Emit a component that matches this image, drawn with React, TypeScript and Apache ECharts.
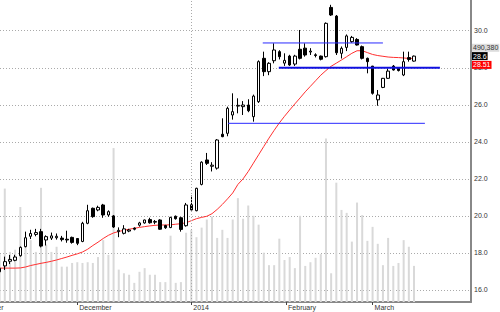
import { useEffect, useRef } from 'react';
import * as echarts from 'echarts';

// [open, close, low, high] per trading day (slot index = array index)
const candles: number[][] = [
  [16.98, 17.17, 16.9, 17.22],
  [17.3, 17.53, 17.08, 17.8],
  [17.55, 17.65, 17.4, 17.89],
  [17.6, 17.78, 17.55, 17.9],
  [17.85, 18.3, 17.8, 18.35],
  [18.34, 18.82, 18.3, 19.15],
  [18.9, 19.05, 18.75, 19.25],
  [19.0, 19.1, 18.9, 19.3],
  [19.15, 18.37, 18.3, 19.3],
  [18.7, 18.88, 18.4, 18.95],
  [18.8, 18.92, 18.7, 19.1],
  [18.82, 18.9, 18.72, 19.05],
  [18.8, 18.72, 18.62, 18.92],
  [18.74, 18.7, 18.55, 19.2],
  [18.84, 18.57, 18.5, 18.88],
  [18.78, 18.52, 18.42, 18.8],
  [18.62, 19.6, 18.58, 19.68],
  [19.6, 20.28, 19.55, 20.6],
  [20.41, 19.96, 19.9, 20.45],
  [20.32, 20.46, 20.25, 20.55],
  [20.59, 20.05, 19.9, 20.65],
  [20.05, 20.23, 19.95, 20.3],
  [20.0, 19.4, 19.35, 20.05],
  [19.15, 19.22, 18.85, 19.38],
  [19.06, 19.3, 19.0, 19.5],
  [19.18, 19.24, 19.12, 19.3],
  [19.34, 19.28, 19.22, 19.38],
  [19.5, 19.62, 19.42, 19.68],
  [19.62, 19.78, 19.58, 19.8],
  [19.8, 19.63, 19.58, 19.9],
  [19.66, 19.7, 19.55, 19.78],
  [19.78, 19.28, 19.25, 19.82],
  [19.48, 19.36, 19.3, 19.52],
  [19.37, 19.92, 19.34, 19.95],
  [19.98, 19.85, 19.8, 20.02],
  [19.9, 19.27, 19.15, 19.95],
  [19.47, 20.59, 19.42, 20.7],
  [20.6, 20.32, 20.3, 21.1],
  [20.28, 21.49, 20.25, 21.52],
  [21.7, 22.9, 21.65, 22.95],
  [23.02, 22.84, 22.75, 23.4],
  [22.68, 22.74, 22.4, 22.9],
  [22.58, 24.1, 22.5, 24.15],
  [24.41, 24.28, 24.25, 25.27],
  [24.46, 25.81, 24.3, 25.9],
  [25.45, 25.63, 25.2, 26.62],
  [25.93, 25.97, 25.54, 26.35],
  [25.9, 25.99, 25.45, 26.2],
  [25.99, 25.68, 25.6, 26.3],
  [25.36, 26.47, 25.09, 26.55],
  [26.17, 28.33, 26.1, 28.4],
  [28.51, 27.79, 27.55, 28.87],
  [27.79, 28.24, 27.6, 28.3],
  [28.38, 28.96, 28.24, 29.32],
  [28.87, 28.6, 28.45, 28.95],
  [28.25, 28.4, 28.1, 28.78],
  [28.63, 28.15, 28.1, 28.7],
  [28.2, 28.63, 28.1, 28.7],
  [29.0, 28.51, 28.45, 30.04],
  [29.06, 28.69, 28.6, 29.32],
  [28.85, 28.9, 28.69, 29.06],
  [28.7, 28.66, 28.56, 28.78],
  [28.63, 28.46, 28.4, 28.66],
  [28.6, 30.4, 28.55, 30.45],
  [31.26, 30.85, 30.8, 31.4],
  [30.79, 28.81, 28.69, 30.85],
  [28.78, 29.05, 28.5, 29.15],
  [29.1, 29.72, 28.9, 29.8],
  [29.41, 29.64, 29.35, 29.72],
  [29.53, 29.23, 29.2, 29.6],
  [29.14, 28.51, 28.45, 29.2],
  [28.51, 28.33, 27.7, 28.55],
  [28.09, 26.62, 26.55, 28.1],
  [26.27, 26.53, 25.95, 26.8],
  [26.94, 27.43, 26.9, 27.45],
  [27.43, 27.82, 27.4, 27.95],
  [28.09, 27.88, 27.85, 28.15],
  [27.97, 27.85, 27.8, 28.0],
  [27.61, 28.33, 27.55, 28.87],
  [28.55, 28.45, 28.33, 28.87],
  [28.36, 28.63, 28.33, 28.66],
];

const movingAverage: number[] = [
  17.18, 17.18, 17.18, 17.18, 17.19, 17.24, 17.32, 17.38, 17.44, 17.49,
  17.55, 17.62, 17.7, 17.78, 17.87, 17.95, 18.05, 18.2, 18.4, 18.58,
  18.78, 18.95, 19.08, 19.16, 19.22, 19.28, 19.33, 19.38, 19.42, 19.46,
  19.49, 19.51, 19.51, 19.52, 19.55, 19.58, 19.63, 19.74, 19.85, 19.92,
  19.98, 20.12, 20.35, 20.62, 20.92, 21.24, 21.7, 22.0, 22.4, 22.85,
  23.3, 23.75, 24.2, 24.62, 25.02, 25.38, 25.72, 26.05, 26.37, 26.7,
  27.0, 27.3, 27.6, 27.85, 28.08, 28.25, 28.42, 28.6, 28.78, 28.92,
  28.92, 28.82, 28.72, 28.66, 28.62, 28.58, 28.56, 28.55, 28.53, 28.5,
  28.51,
];

const volumes: number[] = [
  650000, 1540000, 680000, 710000, 1290000, 750000, 840000, 680000, 1550000, 780000,
  680000, 750000, 480000, 480000, 530000, 540000, 530000, 540000, 530000, 610000,
  840000, 640000, 2090000, 440000, 390000, 370000, 260000, 410000, 460000, 370000,
  370000, 270000, 270000, 900000, 260000, 270000, 940000, 980000, 880000, 1010000,
  1120000, 1160000, 870000, 980000, 870000, 1120000, 1410000, 1130000, 1310000, 1170000,
  1050000, 670000, 500000, 500000, 860000, 570000, 610000, 460000, 1170000, 490000,
  540000, 600000, 650000, 2220000, 390000, 1620000, 1250000, 1210000, 820000, 1350000,
  1180000, 830000, 1020000, 790000, 500000, 870000, 490000, 530000, 840000, 750000,
  490380,
];

const monthTickSlots = [15, 37, 55.3, 72];
const monthTickLabels = ['December', '2014', 'February', 'March'];
const cutMonthLabel = 'November';

// drawn trend lines: start slot, end slot, price
const trendStarts = [50.8, 53.9, 44.1];
const trendEnds = [74.0, 85.0, 82.1];
const trendValues = [29.34, 28.0, 25.0];

const FONT = '"Liberation Sans", Arial, sans-serif';

export default function App() {
  const ref = useRef<HTMLDivElement>(null);

  useEffect(() => {
    if (!ref.current) return;
    const chart = echarts.init(ref.current, undefined, { renderer: 'svg' });

    const trendSeries = trendValues.map((v, k) => ({
      type: 'line',
      data: [
        [trendStarts[k], v],
        [trendEnds[k], v],
      ],
      showSymbol: false,
      symbol: 'none',
      silent: true,
      z: 5,
      lineStyle: { color: k === 1 ? '#1010e0' : '#2a2aff', width: k === 1 ? 2 : 1 },
    }));

    const option: any = {
      animation: false,
      backgroundColor: '#ffffff',
      textStyle: { fontFamily: FONT },
      grid: { left: 0, top: 0, right: 29, bottom: 10, containLabel: false },
      xAxis: {
        type: 'value',
        min: 0.077,
        max: 91,
        axisLine: { show: true, onZero: false, lineStyle: { color: '#888', width: 2 } },
        axisTick: {
          show: true,
          customValues: monthTickSlots,
          length: 3,
          lineStyle: { color: '#444', width: 1 },
        },
        axisLabel: {
          show: true,
          customValues: monthTickSlots,
          formatter: (v: number) => {
            const i = monthTickSlots.findIndex((s) => Math.abs(s - v) < 0.01);
            return i >= 0 ? monthTickLabels[i] : '';
          },
          align: 'left',
          margin: 2,
          padding: [0, 0, 0, 2],
          fontSize: 7,
          color: '#333',
          fontFamily: FONT,
        },
        splitLine: { show: false },
      },
      yAxis: [
        {
          type: 'value',
          position: 'right',
          min: 15.35,
          max: 31.66,
          splitNumber: 8,
          axisLine: { show: true, lineStyle: { color: '#888', width: 2 } },
          axisTick: { show: false },
          axisLabel: {
            formatter: (v: number) => v.toFixed(1),
            fontSize: 7,
            color: '#333',
            margin: 3,
            showMinLabel: false,
            showMaxLabel: false,
            fontFamily: FONT,
          },
          splitLine: {
            show: true,
            showMinLine: false,
            showMaxLine: false,
            lineStyle: { color: '#aaa', type: [1, 2], width: 1 },
          },
        },
        { type: 'value', min: 0, max: 4100000, show: false, splitLine: { show: false } },
      ],
      series: [
        {
          type: 'bar',
          yAxisIndex: 1,
          data: volumes.map((v, i) => [i, v]),
          barWidth: 2,
          silent: true,
          z: 1,
          itemStyle: { color: '#d9d9d9' },
        },
        {
          type: 'line',
          data: movingAverage.map((v, i) => [i, v]),
          showSymbol: false,
          symbol: 'none',
          silent: true,
          z: 2,
          lineStyle: { color: '#ff3030', width: 1 },
          markLine: {
            silent: true,
            symbol: ['none', 'none'],
            label: { show: false },
            lineStyle: { color: '#aaa', type: [1, 2], width: 1 },
            data: [{ xAxis: monthTickSlots[1] }],
          },
        },
        {
          type: 'candlestick',
          data: candles.map((c, i) => [i, c[0], c[1], c[2], c[3]]),
          barWidth: 3,
          silent: true,
          z: 3,
          itemStyle: {
            color: '#ffffff',
            color0: '#000000',
            borderColor: '#000000',
            borderColor0: '#000000',
            borderWidth: 1,
          },
        },
        ...trendSeries,
      ],
    };

    chart.setOption(option);

    const last = candles.length - 1;
    const lastClose = candles[last][1];
    const lastMa = movingAverage[movingAverage.length - 1];
    const lastVol = volumes[volumes.length - 1];
    const py = chart.convertToPixel({ yAxisIndex: 0 }, lastClose) as number;
    const labelX = 472;
    const font = `7px ${FONT}`;

    chart.setOption({
      graphic: [
        {
          type: 'text',
          x: labelX,
          y: py - 8.3,
          z: 10,
          style: {
            text: lastVol.toLocaleString('en-US'),
            font,
            fill: '#333',
            backgroundColor: '#dcdcdc',
            padding: [1, 1, 0, 1],
            verticalAlign: 'middle',
          },
        },
        {
          type: 'text',
          x: labelX,
          y: py,
          z: 10,
          style: {
            text: lastClose.toFixed(1),
            font,
            fill: '#fff',
            backgroundColor: '#000',
            padding: [1, 1, 0, 1],
            verticalAlign: 'middle',
          },
        },
        {
          type: 'text',
          x: labelX,
          y: py + 8.8,
          z: 10,
          style: {
            text: lastMa.toFixed(2),
            font,
            fill: '#fff',
            backgroundColor: '#ff0000',
            padding: [1, 1, 0, 1],
            verticalAlign: 'middle',
          },
        },
        {
          type: 'text',
          x: 3.5,
          y: 304,
          z: 10,
          style: { text: cutMonthLabel, font, fill: '#333', align: 'right', verticalAlign: 'top' },
        },
      ],
    });

    return () => chart.dispose();
  }, []);

  return (
    <div
      ref={ref}
      style={{ position: 'fixed', left: 0, top: 0, width: 500, height: 312, background: '#fff' }}
    />
  );
}
